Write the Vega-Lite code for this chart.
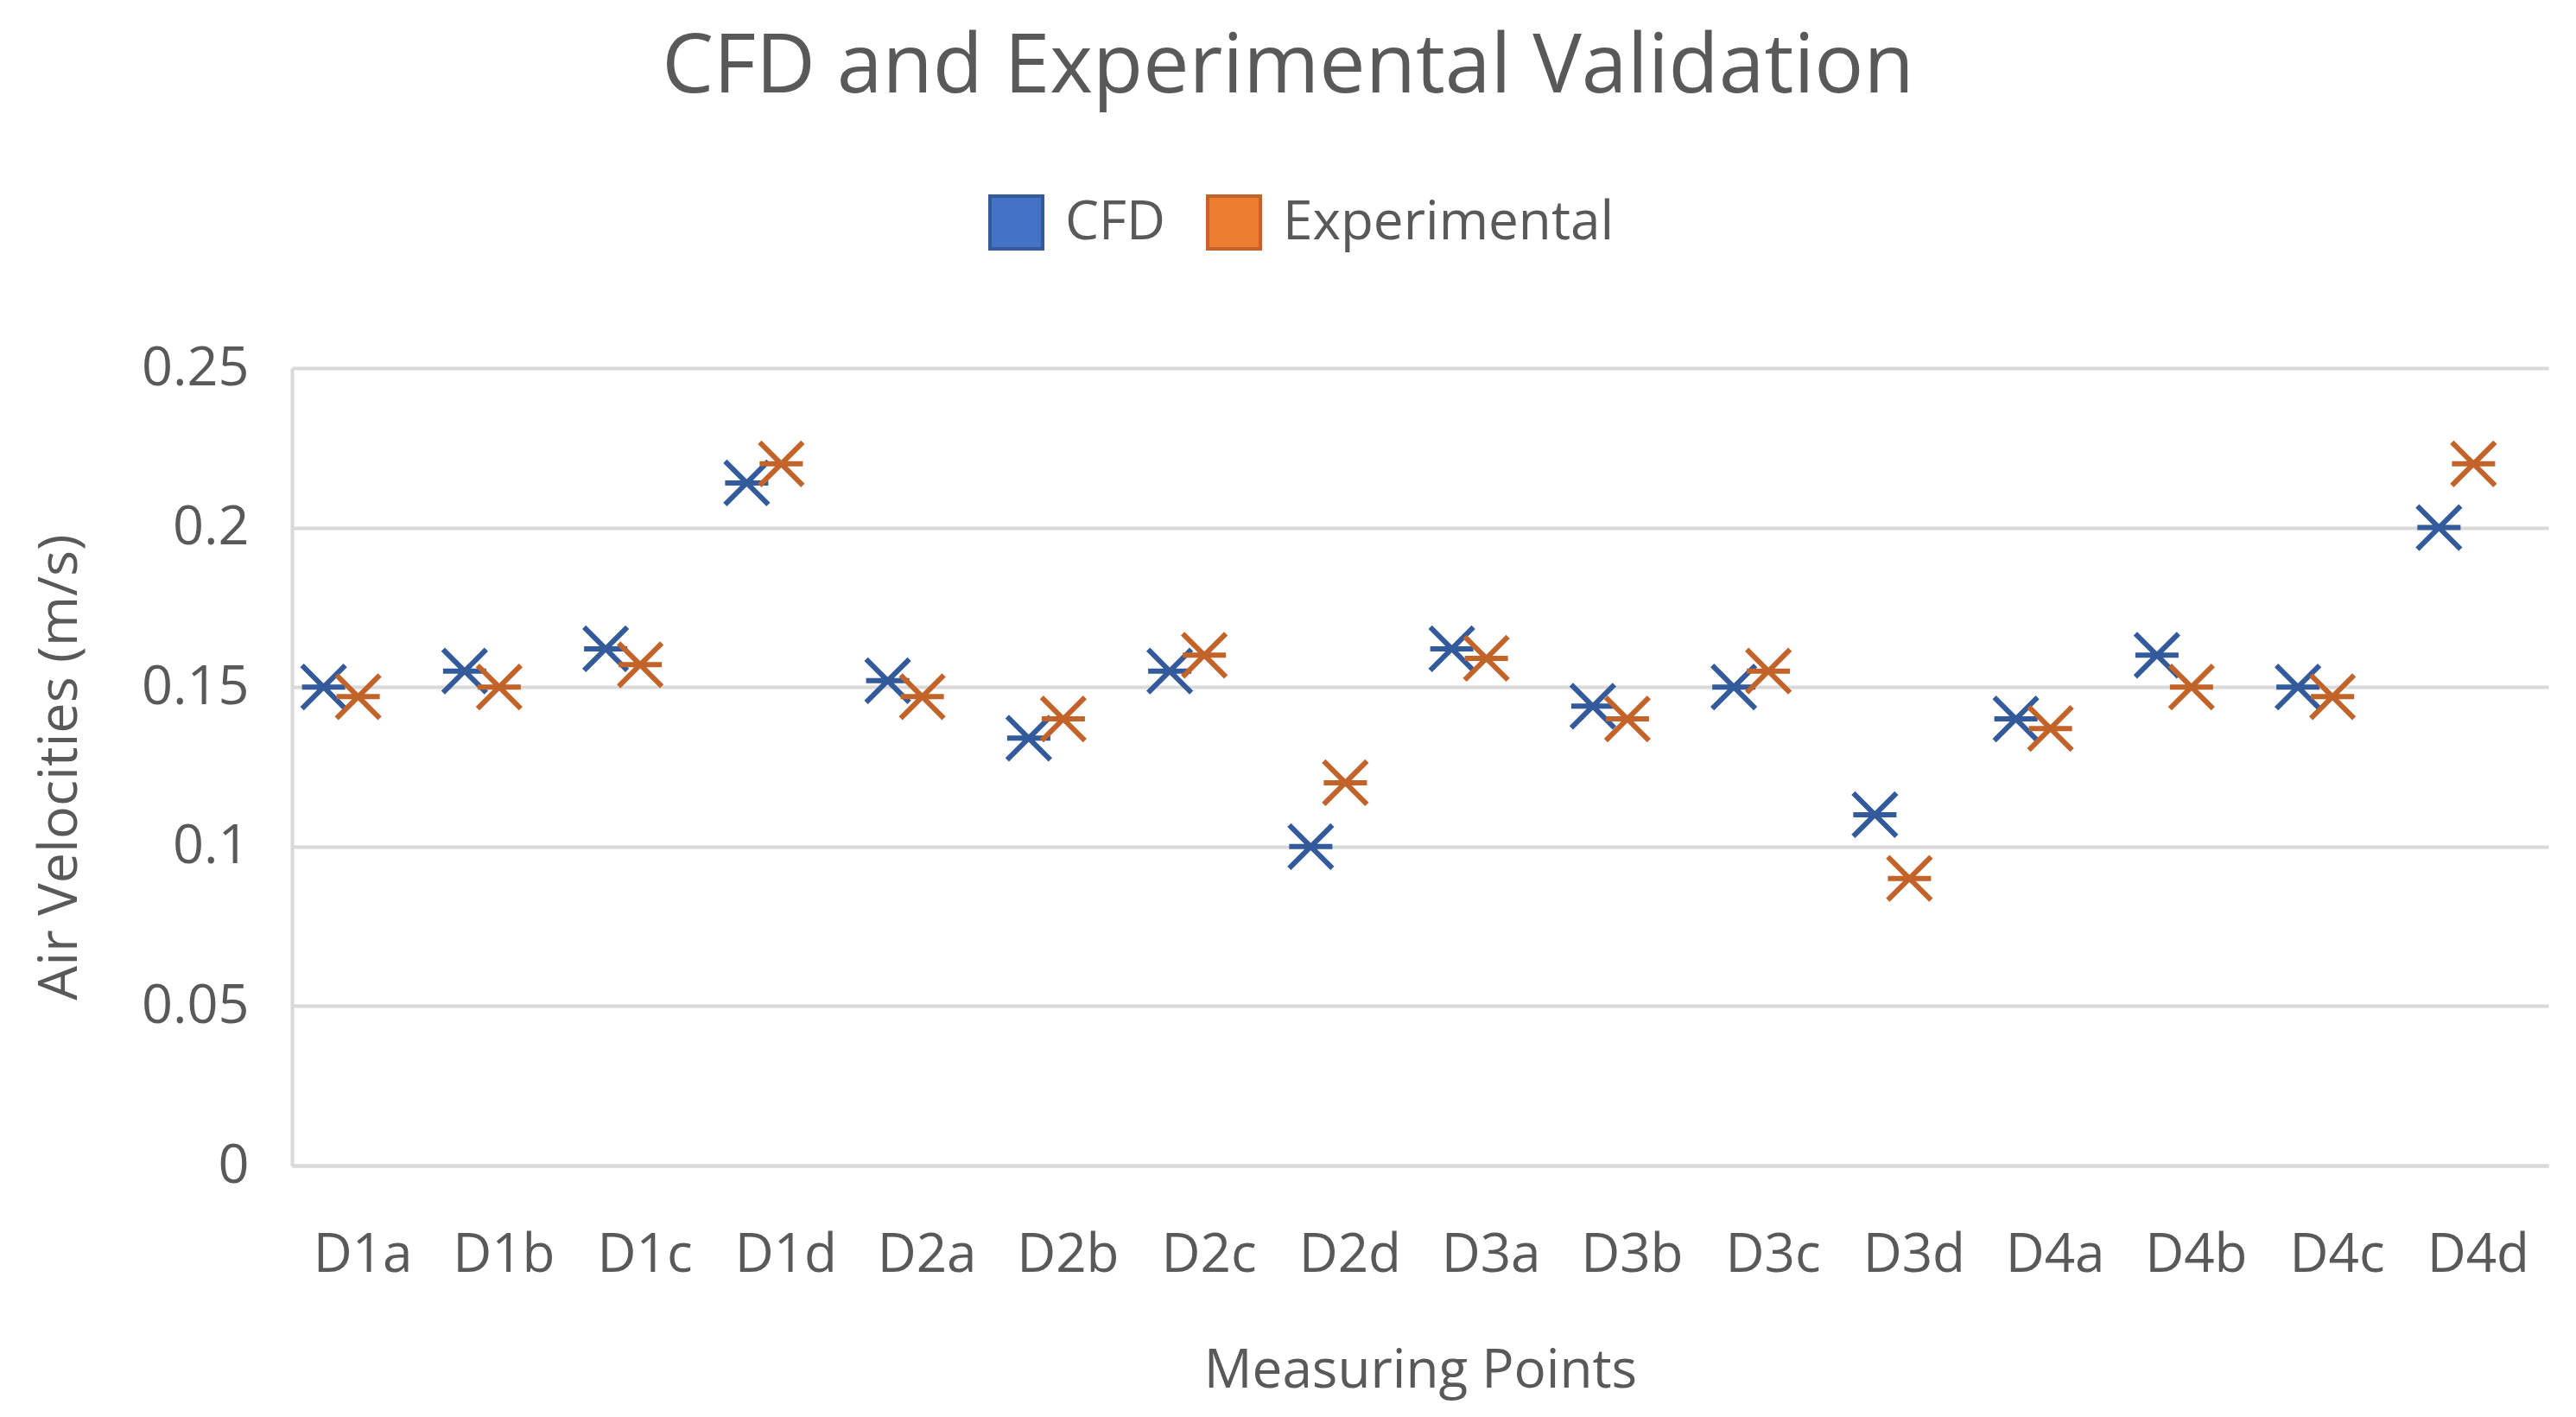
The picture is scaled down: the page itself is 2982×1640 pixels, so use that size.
{
  "$schema": "https://vega.github.io/schema/vega-lite/v6.json",
  "width": 2612,
  "height": 923,
  "autosize": "none",
  "padding": {"left": 338, "top": 426, "right": 32, "bottom": 291},
  "background": "white",
  "config": {
    "font": "Open Sans",
    "view": {"stroke": null},
    "axis": {"labelColor": "#595959", "titleColor": "#595959", "titleFontWeight": "normal"}
  },
  "title": {
    "text": "CFD and Experimental Validation",
    "fontSize": 95,
    "fontWeight": "normal",
    "color": "#595959",
    "anchor": "middle",
    "dx": -153,
    "offset": 98
  },
  "data": {
    "values": [
      {"point": "D1a", "series": "CFD", "velocity": 0.150},
      {"point": "D1a", "series": "Experimental", "velocity": 0.147},
      {"point": "D1b", "series": "CFD", "velocity": 0.155},
      {"point": "D1b", "series": "Experimental", "velocity": 0.150},
      {"point": "D1c", "series": "CFD", "velocity": 0.162},
      {"point": "D1c", "series": "Experimental", "velocity": 0.157},
      {"point": "D1d", "series": "CFD", "velocity": 0.214},
      {"point": "D1d", "series": "Experimental", "velocity": 0.220},
      {"point": "D2a", "series": "CFD", "velocity": 0.152},
      {"point": "D2a", "series": "Experimental", "velocity": 0.147},
      {"point": "D2b", "series": "CFD", "velocity": 0.134},
      {"point": "D2b", "series": "Experimental", "velocity": 0.140},
      {"point": "D2c", "series": "CFD", "velocity": 0.155},
      {"point": "D2c", "series": "Experimental", "velocity": 0.160},
      {"point": "D2d", "series": "CFD", "velocity": 0.100},
      {"point": "D2d", "series": "Experimental", "velocity": 0.120},
      {"point": "D3a", "series": "CFD", "velocity": 0.162},
      {"point": "D3a", "series": "Experimental", "velocity": 0.159},
      {"point": "D3b", "series": "CFD", "velocity": 0.144},
      {"point": "D3b", "series": "Experimental", "velocity": 0.140},
      {"point": "D3c", "series": "CFD", "velocity": 0.150},
      {"point": "D3c", "series": "Experimental", "velocity": 0.155},
      {"point": "D3d", "series": "CFD", "velocity": 0.110},
      {"point": "D3d", "series": "Experimental", "velocity": 0.090},
      {"point": "D4a", "series": "CFD", "velocity": 0.140},
      {"point": "D4a", "series": "Experimental", "velocity": 0.137},
      {"point": "D4b", "series": "CFD", "velocity": 0.160},
      {"point": "D4b", "series": "Experimental", "velocity": 0.150},
      {"point": "D4c", "series": "CFD", "velocity": 0.150},
      {"point": "D4c", "series": "Experimental", "velocity": 0.147},
      {"point": "D4d", "series": "CFD", "velocity": 0.200},
      {"point": "D4d", "series": "Experimental", "velocity": 0.220}
    ]
  },
  "encoding": {
    "x": {
      "field": "point",
      "type": "nominal",
      "sort": null,
      "scale": {"paddingInner": 0, "paddingOuter": 0},
      "axis": {
        "title": "Measuring Points",
        "titleFontSize": 62,
        "titlePadding": 73,
        "labelAngle": 0,
        "labelFontSize": 62,
        "labelPadding": 73,
        "ticks": false,
        "domainColor": "#D9D9D9",
        "domainWidth": 4
      }
    },
    "y": {
      "field": "velocity",
      "type": "quantitative",
      "scale": {"domain": [0, 0.25], "nice": false},
      "axis": {
        "title": "Air Velocities (m/s)",
        "titleFontSize": 63,
        "titlePadding": 62,
        "values": [0, 0.05, 0.1, 0.15, 0.2, 0.25],
        "format": "~g",
        "labelFontSize": 63,
        "labelPadding": 50,
        "ticks": false,
        "grid": true,
        "gridColor": "#D9D9D9",
        "gridWidth": 4,
        "domainColor": "#D9D9D9",
        "domainWidth": 4
      }
    },
    "fill": {
      "field": "series",
      "type": "nominal",
      "scale": {"domain": ["CFD", "Experimental"], "range": ["#4472C4", "#ED7D31"]}
    },
    "stroke": {
      "field": "series",
      "type": "nominal",
      "scale": {"domain": ["CFD", "Experimental"], "range": ["#335A9A", "#C2632A"]},
      "legend": {
        "title": null,
        "orient": "none",
        "legendX": 806,
        "legendY": -201,
        "direction": "horizontal",
        "symbolType": "square",
        "symbolSize": 3721,
        "symbolStrokeWidth": 4,
        "symbolOpacity": 1,
        "labelFontSize": 62,
        "labelColor": "#595959",
        "labelOffset": 24,
        "labelLimit": 0,
        "columnPadding": 40
      }
    }
  },
  "layer": [
    {
      "transform": [{"filter": "datum.series === 'CFD'"}],
      "mark": {
        "type": "point",
        "shape": "M-1,-1L1,1M-1,1L1,-1M-1,0L1,0",
        "filled": true,
        "size": 2500,
        "strokeWidth": 6,
        "opacity": 1,
        "xOffset": -45
      }
    },
    {
      "transform": [{"filter": "datum.series === 'Experimental'"}],
      "mark": {
        "type": "point",
        "shape": "M-1,-1L1,1M-1,1L1,-1M-1,0L1,0",
        "filled": true,
        "size": 2500,
        "strokeWidth": 6,
        "opacity": 1,
        "xOffset": -5
      }
    }
  ]
}
